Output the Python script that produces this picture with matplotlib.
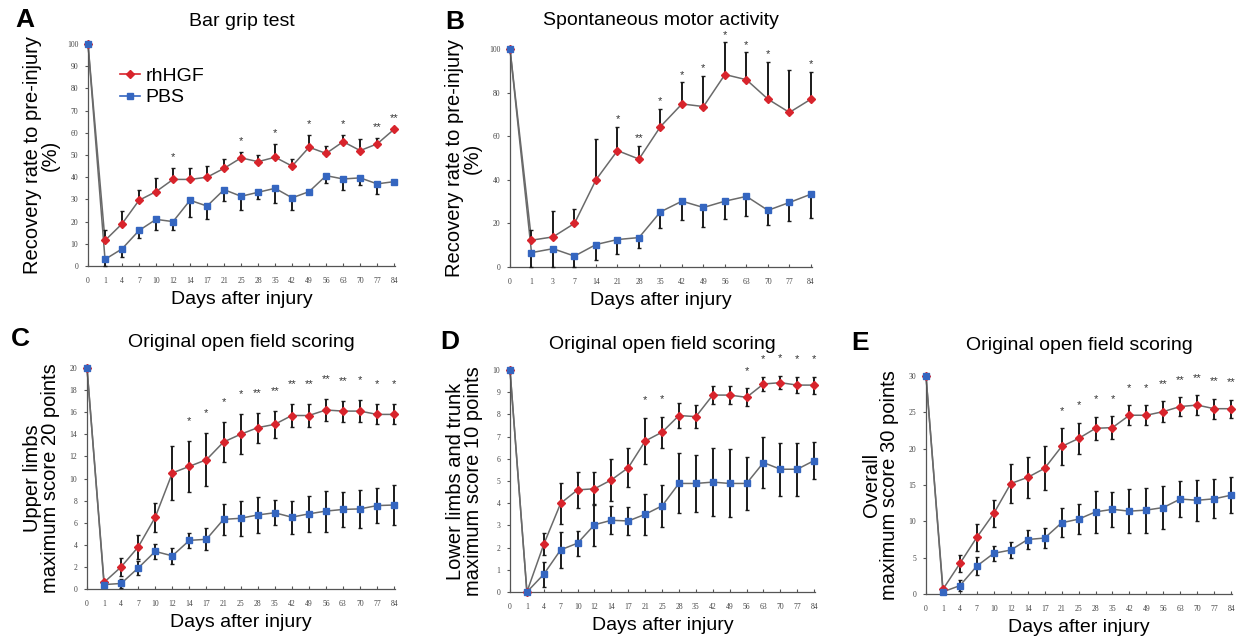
import numpy as np
import matplotlib
matplotlib.use('Agg')
import matplotlib.pyplot as plt
from matplotlib.lines import Line2D

# ---- data ----
days_long = ['0', '1', '4', '7', '10', '12', '14', '17', '21', '25', '28',
             '35', '42', '49', '56', '63', '70', '77', '84']
days_B = ['0', '1', '3', '7', '14', '21', '28', '35', '42', '49', '56',
          '63', '70', '77', '84']

# A: bar grip test (%)
hgf_A = [100, 11.5, 19, 29.6, 33.5, 39, 39, 40, 44, 48.7, 47, 49, 45, 53.5,
         50.7, 56, 52, 55, 61.6]
hgf_A_err = [0, 4.5, 6, 4.5, 6, 5, 5, 5, 4, 2.5, 3, 6, 3, 5.5, 3.3, 3, 5, 2.5, 0]
pbs_A = [100, 3, 7.7, 16, 21, 20, 29.6, 27, 34.4, 31.4, 33.2, 35, 30.7, 33.5,
         40.7, 39.2, 39.7, 37, 38]
pbs_A_err = [0, 3, 3.7, 3.5, 5, 4, 7.5, 6, 5, 6, 3, 6.4, 5.3, 0, 3.3, 5, 3.3, 4.4, 0]
stars_A = ['', '', '', '', '', '*', '', '', '', '*', '', '*', '', '*', '',
           '*', '', '**', '**']

# B: spontaneous motor activity (%)
hgf_B = [100, 12.3, 13.8, 20, 40, 53.4, 49.5, 64.4, 74.8, 73.6, 88.3, 85.9,
         77, 70.9, 77]
hgf_B_err = [0, 4.6, 11.7, 6.5, 18.9, 11, 6.2, 8, 9.9, 14.1, 14.7, 12.6,
             17.2, 19.3, 12.6]
pbs_B = [100, 6.6, 8.4, 5, 10.3, 12.6, 13.5, 25.3, 30.2, 27.3, 30.2, 32.4,
         26, 29.6, 33.4]
pbs_B_err = [0, 6.6, 8.4, 5, 7.3, 6.8, 5, 7.4, 8.7, 8.9, 8, 9.1, 6.8, 8.4, 10.7]
stars_B = ['', '', '', '', '', '*', '**', '*', '*', '*', '*', '*', '*', '', '*']

# C: upper limbs (max 20)
hgf_C = [20, 0.6, 2.0, 3.8, 6.5, 10.5, 11.1, 11.7, 13.3, 14, 14.6, 14.9,
         15.7, 15.7, 16.2, 16.1, 16.1, 15.8, 15.8]
hgf_C_err = [0, 0, 0.85, 1.05, 1.3, 2.45, 2.3, 2.4, 1.85, 1.8, 1.35, 1.25,
             1.0, 1.05, 1.0, 0.95, 1.0, 0.9, 0.9]
pbs_C = [20, 0.4, 0.5, 1.9, 3.4, 3.0, 4.4, 4.5, 6.3, 6.4, 6.7, 6.9, 6.5, 6.8,
         7.05, 7.2, 7.25, 7.55, 7.6]
pbs_C_err = [0, 0, 0.4, 0.65, 0.65, 0.7, 0.7, 1.0, 1.4, 1.6, 1.6, 1.15, 1.5,
             1.65, 1.85, 1.55, 1.75, 1.6, 1.85]
stars_C = ['', '', '', '', '', '', '*', '*', '*', '*', '**', '**', '**', '**',
           '**', '**', '*', '*', '*']

# D: lower limbs and trunk (max 10)
hgf_D = [10, 0, 2.15, 4.0, 4.6, 4.65, 5.05, 5.6, 6.8, 7.2, 7.95, 7.9, 8.87,
         8.87, 8.77, 9.37, 9.43, 9.32, 9.32]
hgf_D_err = [0, 0, 0.5, 0.93, 0.8, 0.75, 0.95, 0.87, 1.05, 0.7, 0.55, 0.53,
             0.4, 0.4, 0.4, 0.3, 0.3, 0.35, 0.38]
pbs_D = [10, 0, 0.8, 1.9, 2.2, 3.03, 3.23, 3.2, 3.5, 3.88, 4.89, 4.89, 4.95,
         4.89, 4.89, 5.83, 5.53, 5.53, 5.92]
pbs_D_err = [0, 0, 0.56, 0.8, 0.57, 0.95, 0.63, 0.63, 0.92, 0.93, 1.35, 1.28,
             1.52, 1.53, 1.2, 1.16, 1.19, 1.19, 0.84]
stars_D = ['', '', '', '', '', '', '', '', '*', '*', '', '', '', '', '*',
           '*', '*', '*', '*']

# E: overall (max 30)
hgf_E = [30, 0.65, 4.2, 7.8, 11.1, 15.2, 16.05, 17.3, 20.3, 21.4, 22.8, 22.9,
         24.6, 24.6, 25.1, 25.8, 26.0, 25.5, 25.5]
hgf_E_err = [0, 0, 1.15, 1.9, 1.9, 2.65, 2.85, 3.0, 2.5, 2.2, 1.6, 1.55, 1.4,
             1.4, 1.4, 1.3, 1.35, 1.35, 1.25]
pbs_E = [30, 0.3, 1.15, 3.85, 5.6, 6.05, 7.5, 7.7, 9.8, 10.3, 11.3, 11.65,
         11.4, 11.55, 11.9, 13.07, 12.9, 13.1, 13.6]
pbs_E_err = [0, 0, 0.8, 1.2, 1.0, 1.15, 1.3, 1.4, 2.0, 2.1, 2.9, 2.4, 3.05,
             3.1, 3.0, 2.5, 2.8, 2.7, 2.5]
stars_E = ['', '', '', '', '', '', '', '', '*', '*', '*', '*', '*', '*', '**',
           '**', '**', '**', '**']

RED = '#d8242c'
BLUE = '#3566c0'
LINE = '#6a6a6a'

W, H = 1243, 641


def px_axes(fig, left, right, bottom, top):
    # pixel box -> figure axes
    return fig.add_axes([left / W, 1 - bottom / H, (right - left) / W, (bottom - top) / H])


def draw_panel(ax, days, hgf, hgf_err, pbs, pbs_err, stars, ymax, ystep,
               one_sided=False, star_pad=0.07):
    x = np.arange(len(days))
    hgf = np.array(hgf, dtype=float)
    pbs = np.array(pbs, dtype=float)
    he = np.array(hgf_err, dtype=float)
    pe = np.array(pbs_err, dtype=float)
    zero = np.zeros_like(he)
    if one_sided:
        h_yerr = [zero, he]
        p_yerr = [pe, zero]
    else:
        h_yerr = he
        p_yerr = pe

    ax.plot(x, hgf, color=LINE, lw=1.1, zorder=2, clip_on=False)
    ax.plot(x, pbs, color=LINE, lw=1.1, zorder=2, clip_on=False)
    ax.errorbar(x, hgf, yerr=h_yerr, fmt='none', ecolor='#1a1a1a', elinewidth=1.4,
                capsize=1.2, capthick=1, zorder=3, clip_on=False)
    ax.errorbar(x, pbs, yerr=p_yerr, fmt='none', ecolor='#1a1a1a', elinewidth=1.4,
                capsize=1.2, capthick=1, zorder=3, clip_on=False)
    ax.plot(x, hgf, ls='none', marker='D', ms=4.3, color=RED, mec=RED, zorder=4,
            clip_on=False)
    ax.plot(x, pbs, ls='none', marker='s', ms=5, color=BLUE, mec=BLUE, zorder=5,
            clip_on=False)

    for xi, s, y, e in zip(x, stars, hgf, he):
        if s:
            ax.text(xi, y + e + star_pad * ymax, s, ha='center', va='center',
                    fontsize=8, color='#333333')

    ax.set_xlim(0, len(days) - 1 + 0.05)
    ax.set_ylim(0, ymax)
    ax.set_xticks(x)
    ax.set_xticklabels(days)
    ax.set_yticks(np.arange(0, ymax + 0.01, ystep))
    for sp in ['top', 'right']:
        ax.spines[sp].set_visible(False)
    for sp in ['left', 'bottom']:
        ax.spines[sp].set_color('#555555')
        ax.spines[sp].set_linewidth(0.9)
    ax.tick_params(axis='x', direction='in', length=2, width=0.8, color='#555555',
                   labelsize=5.5, labelcolor='#444444', pad=8)
    ax.tick_params(axis='y', direction='out', length=2, width=0.8, color='#555555',
                   labelsize=5.5, labelcolor='#444444', pad=5)
    for lab in ax.get_xticklabels() + ax.get_yticklabels():
        lab.set_family('Liberation Serif')
    ax.set_xlabel('Days after injury', fontsize=14, labelpad=4)
    ax.patch.set_alpha(0)


plt.rcParams['font.family'] = ['Liberation Sans', 'DejaVu Sans']

fig = plt.figure(figsize=(W / 100, H / 100), dpi=100)

axA = px_axes(fig, 88, 395, 266, 44)
draw_panel(axA, days_long, hgf_A, hgf_A_err, pbs_A, pbs_A_err, stars_A, 100, 10,
           one_sided=True, star_pad=0.05)
axA.set_ylabel('Recovery rate to pre-injury\n(%)', fontsize=14.5, linespacing=0.9,
               labelpad=5)
axA.set_title('Bar grip test', fontsize=14, pad=13)
handles = [Line2D([], [], color=RED, marker='D', ms=4.3, lw=1.2),
           Line2D([], [], color=BLUE, marker='s', ms=5, lw=1.2)]
axA.legend(handles, ['rhHGF', 'PBS'], loc='upper left', bbox_to_anchor=(0.08, 0.93),
           frameon=False, fontsize=14, handlelength=1.0, handletextpad=0.3,
           labelspacing=0.2, borderaxespad=0)

axB = px_axes(fig, 510, 812, 267, 49)
draw_panel(axB, days_B, hgf_B, hgf_B_err, pbs_B, pbs_B_err, stars_B, 100, 20,
           one_sided=True, star_pad=0.035)
axB.set_ylabel('Recovery rate to pre-injury\n(%)', fontsize=14.5, linespacing=0.9,
               labelpad=5)
axB.set_title('Spontaneous motor activity', fontsize=14, pad=17)

axC = px_axes(fig, 87, 395, 589, 368)
draw_panel(axC, days_long, hgf_C, hgf_C_err, pbs_C, pbs_C_err, stars_C, 20, 2,
           star_pad=0.09)
axC.set_ylabel('Upper limbs\nmaximum score 20 points', fontsize=14.5,
               linespacing=0.9, labelpad=7)
axC.set_title('Original open field scoring', fontsize=14, pad=15)

axD = px_axes(fig, 510, 815, 592, 370)
draw_panel(axD, days_long, hgf_D, hgf_D_err, pbs_D, pbs_D_err, stars_D, 10, 1,
           star_pad=0.08)
axD.set_ylabel('Lower limbs and trunk\nmaximum score 10 points', fontsize=14.5,
               linespacing=0.9, labelpad=7)
axD.set_title('Original open field scoring', fontsize=14, pad=15)

axE = px_axes(fig, 926, 1232, 594, 376)
draw_panel(axE, days_long, hgf_E, hgf_E_err, pbs_E, pbs_E_err, stars_E, 30, 5,
           star_pad=0.08)
axE.set_ylabel('Overall\nmaximum score 30 points', fontsize=14.5,
               linespacing=0.9, labelpad=7)
axE.set_title('Original open field scoring', fontsize=14, pad=19)

for letter, px, py in [('A', 25, 20), ('B', 455, 22), ('C', 20, 339),
                       ('D', 450, 342), ('E', 860, 343)]:
    fig.text(px / W, 1 - py / H, letter, fontsize=19, fontweight='bold',
             ha='center', va='center')

fig.savefig('out.png', dpi=100)
